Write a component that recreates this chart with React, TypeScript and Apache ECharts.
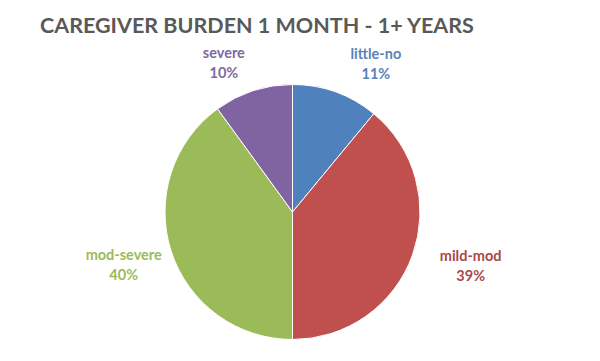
import React, { useEffect, useRef } from "react";
import * as echarts from "echarts";

const categories = ["little-no", "mild-mod", "mod-severe", "severe"];
const values = [11, 39, 40, 10];
const colors = ["#4F81BD", "#C0504D", "#9BBB59", "#8064A2"];
const labelColors = ["#5B82B8", "#A8494A", "#9BBB59", "#7F6A9F"];
const labelOffsets = [25, 25, 14, 15];
const titleText = "CAREGIVER BURDEN 1 MONTH - 1+ YEARS";

export default function App() {
  const ref = useRef<HTMLDivElement>(null);
  useEffect(() => {
    if (!ref.current) return;
    const chart = echarts.init(ref.current, null, { renderer: "svg" });
    chart.setOption({
      animation: false,
      backgroundColor: "#ffffff",
      title: {
        text: titleText,
        left: 40,
        top: 14,
        padding: 0,
        textStyle: {
          fontFamily: "Lato",
          fontWeight: "bold",
          fontSize: 21.5,
          color: "#595959",
        },
      },
      series: [
        {
          type: "pie",
          center: [292.5, 212],
          radius: 127.5,
          startAngle: 90,
          clockwise: true,
          avoidLabelOverlap: false,
          itemStyle: { borderColor: "#ffffff", borderWidth: 1 },
          label: {
            show: true,
            position: "outside",
            fontFamily: "Lato",
            fontWeight: "bold",
            fontSize: 14.5,
            lineHeight: 20,
            formatter: (p: any) => `${p.name}\n${p.value}%`,
          },
          labelLine: { show: false, length: 30, length2: 25 },
          labelLayout: (p: any) => ({ align: "center", dy: p.dataIndex === 2 ? 4 : 0 }),
          data: categories.map((c, i) => ({
            name: c,
            value: values[i],
            itemStyle: { color: colors[i] },
            label: { color: labelColors[i] },
            labelLine: { show: false, length: 30, length2: labelOffsets[i] },
          })),
        },
      ],
    });
    return () => chart.dispose();
  }, []);
  return (
    <div
      ref={ref}
      style={{ position: "absolute", left: 0, top: 0, width: 600, height: 361 }}
    />
  );
}
